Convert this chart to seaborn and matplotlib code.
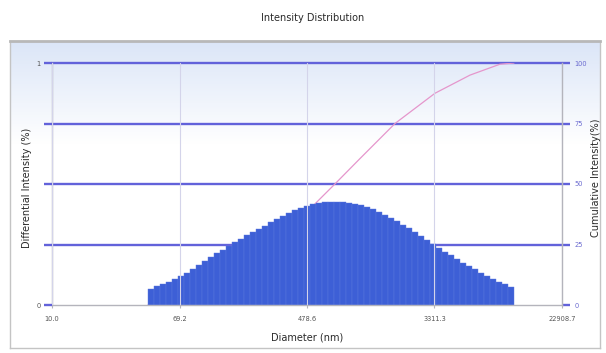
import numpy as np
import pandas as pd
import matplotlib
matplotlib.use("Agg")
import matplotlib.pyplot as plt
import seaborn as sns
from matplotlib.ticker import FixedLocator, NullLocator, FixedFormatter

# ---------------- data ----------------
TITLE = "Intensity Distribution"
X_LABEL = "Diameter (nm)"
Y_LABEL_LEFT = "Differential Intensity (%)"
Y_LABEL_RIGHT = "Cumulative Intensity(%)"

X_TICKS = [10.0, 69.2, 478.6, 3311.3, 22908.7]
X_TICK_LABELS = ["10.0", "69.2", "478.6", "3311.3", "22908.7"]
LEFT_TICKS = [0, 0.25, 0.5, 0.75, 1.0]
LEFT_TICK_LABELS = ["0", "", "", "", "1"]
RIGHT_TICKS = [0, 25, 50, 75, 100]
RIGHT_TICK_LABELS = ["0", "25", "50", "75", "100"]

# instrument size-bin range (nm)
BIN_MIN_NM = 42.9
BIN_MAX_NM = 11060.0

# differential intensity per bin (left to right)
DIFF_INTENSITY = [
    0.068, 0.077, 0.086, 0.096, 0.107, 0.119, 0.132, 0.147, 0.164, 0.182,
    0.199, 0.214, 0.229, 0.244, 0.259, 0.274, 0.288, 0.300, 0.313, 0.327,
    0.342, 0.356, 0.369, 0.381, 0.392, 0.401, 0.409, 0.416, 0.421, 0.425,
    0.427, 0.427, 0.426, 0.423, 0.418, 0.412, 0.404, 0.395, 0.384, 0.373,
    0.360, 0.347, 0.332, 0.317, 0.302, 0.286, 0.270, 0.253, 0.237, 0.221,
    0.205, 0.190, 0.175, 0.161, 0.147, 0.134, 0.121, 0.108, 0.096, 0.085,
    0.074,
]

# cumulative intensity curve
CUM_DIAMETER = [42.9, 69.7, 148.9, 245.5, 411.0, 524.8, 731.0, 1069.0,
                1819.0, 3336.0, 5675.0, 8937.0, 11060.0]
CUM_INTENSITY = [0.0, 4.5, 12.5, 21.5, 34.0, 41.0, 50.0, 60.5,
                 75.0, 87.5, 95.0, 99.5, 100.0]

# ---------------- style ----------------
sns.set_style("white")
plt.rcParams["font.family"] = ["DejaVu Sans"]

BAR_COLOR = "#3d5fd6"
GRID_BLUE = "#6262da"
PINK = "#e596cc"
SPINE_GRAY = "#b4b4bc"
TEXT = "#2a2a2a"

W, H = 606, 353
fig = plt.figure(figsize=(W / 100, H / 100), dpi=100)
fig.patch.set_facecolor("white")

def fx(px):
    return px / W

def fy(py):
    return 1 - py / H

# outer panel with soft blue gradient
bg = fig.add_axes([fx(10), fy(348), fx(600) - fx(10), fy(41) - fy(348)], zorder=0)
grad = np.linspace(0, 1, 256)[:, None]
mix = np.clip(grad * 3.0, 0, 1)[:, :, None]
top = np.array([0.86, 0.90, 0.97])
col = top[None, None, :] * (1 - mix) + np.array([1, 1, 1])[None, None, :] * mix
bg.imshow(col, aspect="auto", extent=[0, 1, 0, 1], origin="upper")
bg.set_xlim(0, 1)
bg.set_ylim(0, 1)
bg.set_xticks([])
bg.set_yticks([])
for s in bg.spines.values():
    s.set_color("#c4c4c4")
    s.set_linewidth(1.0)
bg.spines["top"].set_linewidth(2.0)
bg.spines["top"].set_color("#b8b8b8")

# main axes
ax = fig.add_axes([fx(52), fy(305), fx(562) - fx(52), fy(63) - fy(305)], zorder=3)
ax2 = ax.twinx()
ax2.set_zorder(2)
ax.patch.set_visible(False)
ax2.patch.set_visible(False)

# bars
df = pd.DataFrame({
    "diameter": np.sqrt(np.geomspace(BIN_MIN_NM, BIN_MAX_NM, len(DIFF_INTENSITY) + 1)[:-1]
                        * np.geomspace(BIN_MIN_NM, BIN_MAX_NM, len(DIFF_INTENSITY) + 1)[1:]),
    "intensity": DIFF_INTENSITY,
})
sns.histplot(data=df, x="diameter", weights="intensity",
             bins=len(DIFF_INTENSITY),
             binrange=(np.log10(BIN_MIN_NM), np.log10(BIN_MAX_NM)),
             log_scale=True, ax=ax, color=BAR_COLOR, alpha=1.0,
             edgecolor="#5b78de", linewidth=0.3, zorder=2)

# cumulative line (behind the bars)
cdf = pd.DataFrame({"diameter": CUM_DIAMETER, "cum": CUM_INTENSITY})
sns.lineplot(data=cdf, x="diameter", y="cum", ax=ax2, color=PINK,
             linewidth=0.9, zorder=3)
for v in RIGHT_TICKS[1:]:
    ax2.axhline(v, color=GRID_BLUE, linewidth=1.7, zorder=1, clip_on=False)

# axes ranges
ax.set_xscale("log")
ax.set_xlim(10.0, 22908.7)
ax.set_ylim(0, 1.0)
ax2.set_ylim(0, 100)

# x ticks
ax.xaxis.set_major_locator(FixedLocator(X_TICKS))
ax.xaxis.set_major_formatter(FixedFormatter(X_TICK_LABELS))
ax.xaxis.set_minor_locator(NullLocator())
ax.tick_params(axis="x", labelsize=4.8, colors=SPINE_GRAY, labelcolor="#555555",
               length=2, width=0.8, pad=6, direction="out", bottom=True)
ax.grid(axis="x", color="#d4d4ea", linewidth=0.8)
ax.grid(axis="y", visible=False)
ax.set_axisbelow(False)

# left y ticks
ax.yaxis.set_major_locator(FixedLocator(LEFT_TICKS))
ax.yaxis.set_major_formatter(FixedFormatter(LEFT_TICK_LABELS))
ax.tick_params(axis="y", labelsize=4.8, labelcolor="#555555", colors=GRID_BLUE,
               length=6, width=1.7, pad=2, direction="out", left=True)

# right y ticks
ax2.yaxis.set_major_locator(FixedLocator(RIGHT_TICKS))
ax2.yaxis.set_major_formatter(FixedFormatter(RIGHT_TICK_LABELS))
ax2.tick_params(axis="y", labelsize=4.8, labelcolor="#6a6ad0", colors=GRID_BLUE,
                length=6, width=1.7, pad=3, direction="out", right=True)
ax2.grid(False)

# spines
ax.spines["top"].set_visible(False)
for s in ax2.spines.values():
    s.set_visible(False)
for s in ["left", "bottom", "right"]:
    ax.spines[s].set_color(SPINE_GRAY)
    ax.spines[s].set_linewidth(1.0)

ax.set_xlabel("")
ax.set_ylabel("")
ax2.set_xlabel("")
ax2.set_ylabel("")

# texts
fig.text(fx(313), fy(18), TITLE, ha="center", va="center", fontsize=7, color=TEXT)
fig.text(fx(307), fy(338), X_LABEL, ha="center", va="center", fontsize=7, color=TEXT)
fig.text(fx(27), fy(188), Y_LABEL_LEFT, ha="center", va="center", fontsize=7,
         rotation=90, color=TEXT)
fig.text(fx(596), fy(178), Y_LABEL_RIGHT, ha="center", va="center", fontsize=7,
         rotation=90, color=TEXT)

fig.savefig("out.png", dpi=100)
